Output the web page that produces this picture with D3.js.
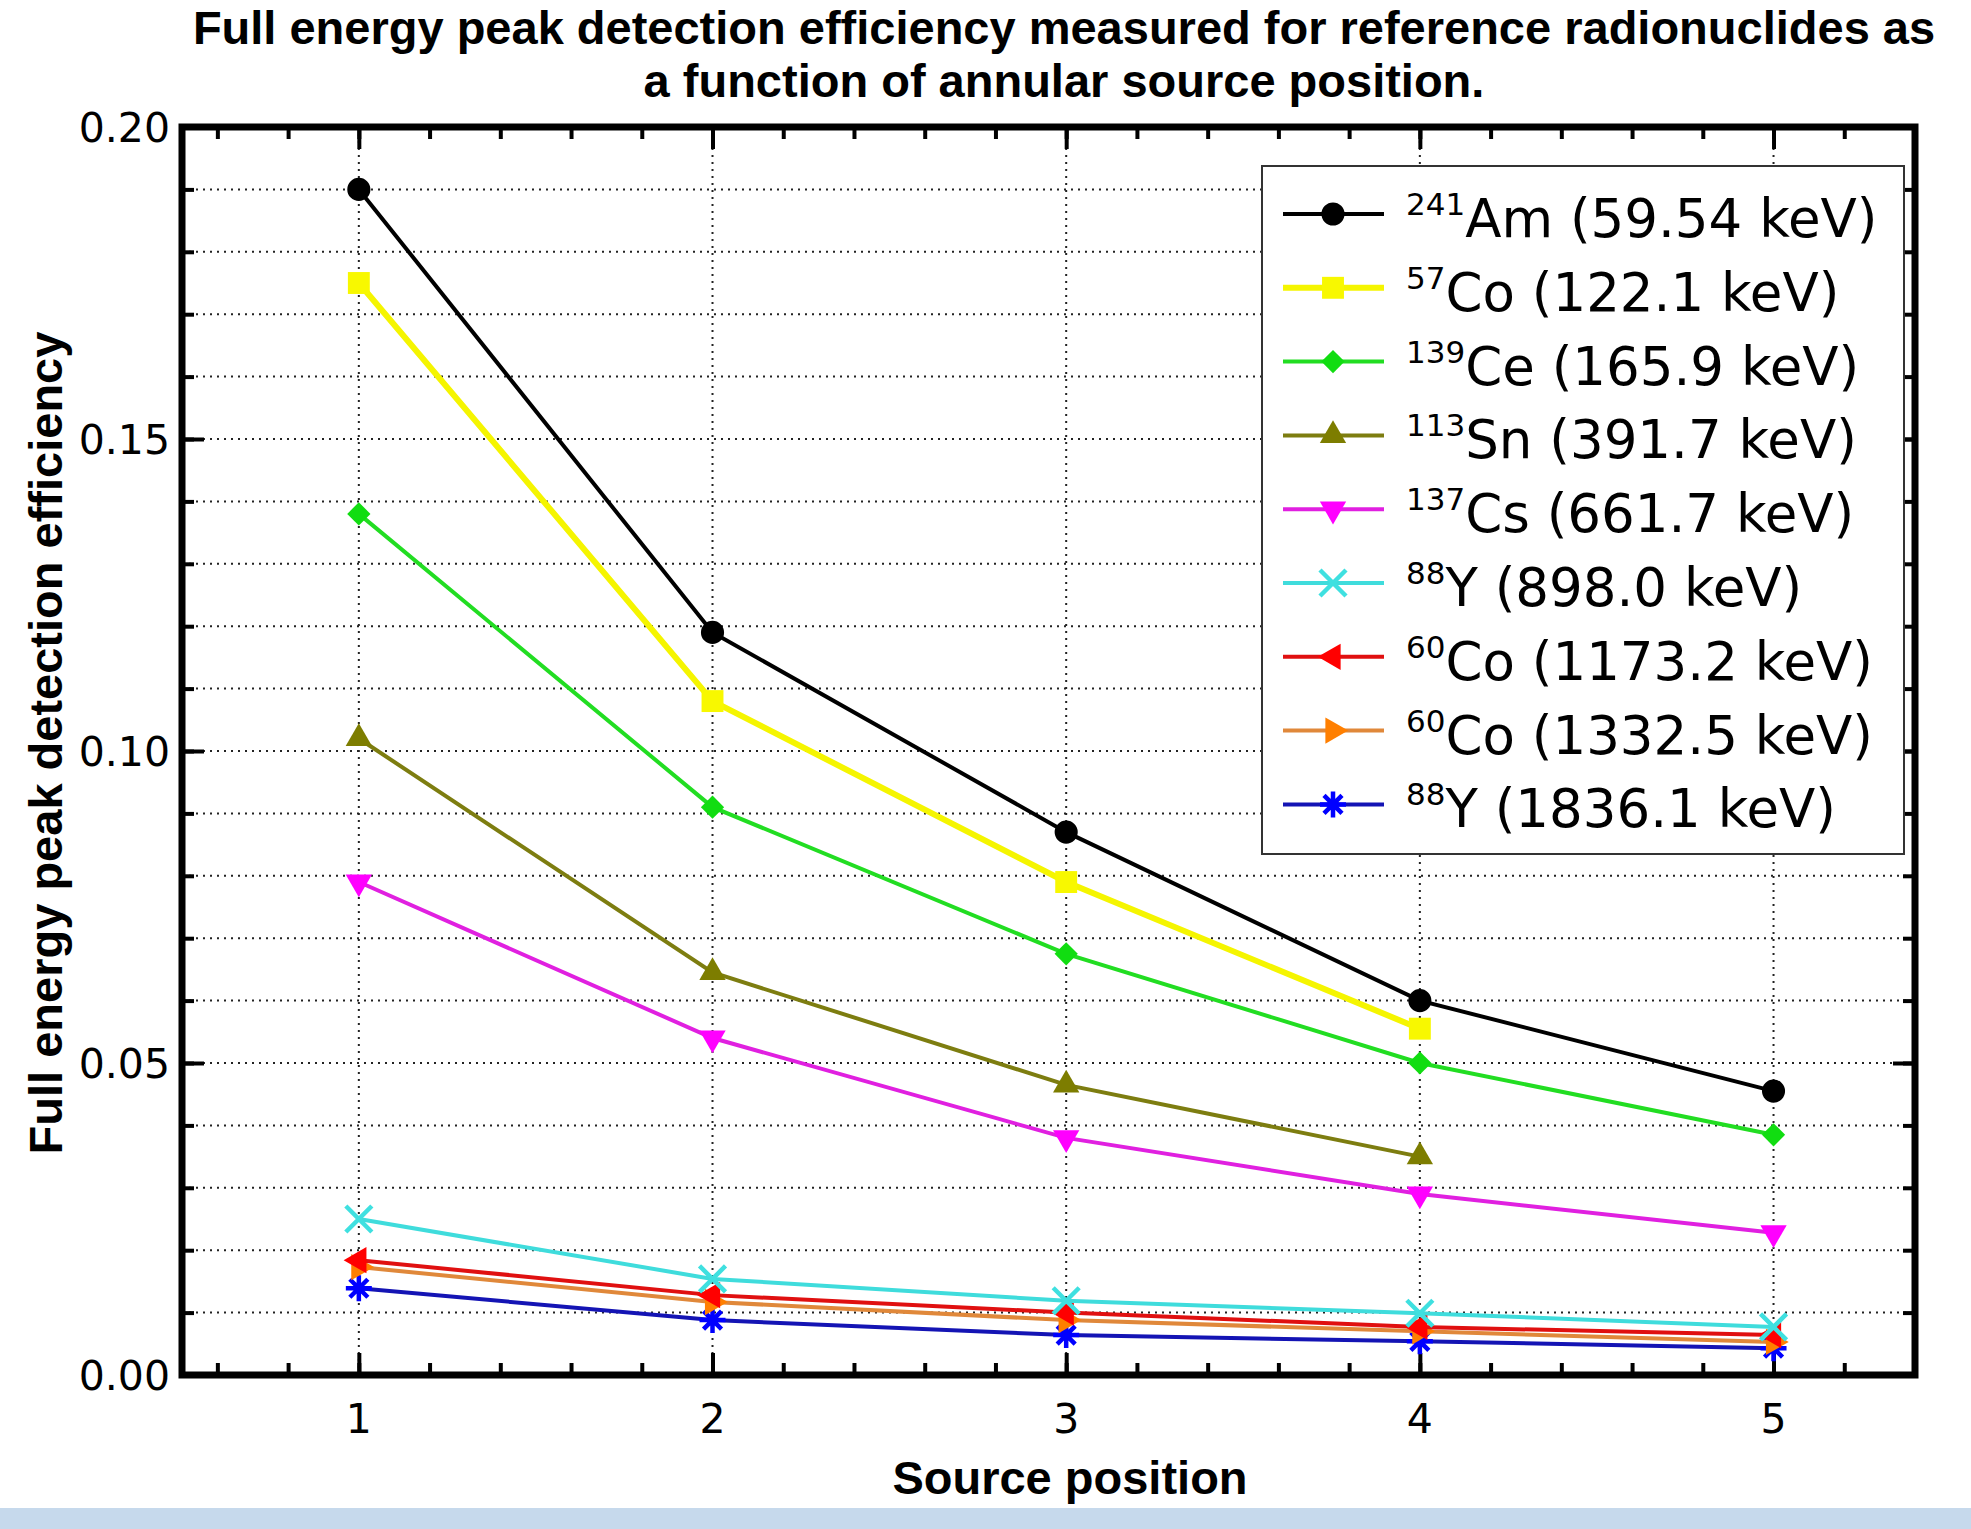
<!DOCTYPE html>
<html>
<head>
<meta charset="utf-8">
<script src="https://cdn.jsdelivr.net/npm/d3@7"></script>
<style>
  html, body { margin: 0; padding: 0; background: #fff; }
  svg { display: block; }
</style>
</head>
<body>
<div id="chart"></div>
<script>
// Source positions on the x axis
const positions = [1, 2, 3, 4, 5];

// Efficiency values, one array per gamma line
const am241_59 = [0.190, 0.119, 0.087, 0.060, 0.0455];
const co57_122 = [0.175, 0.108, 0.079, 0.0555];
const ce139_166 = [0.138, 0.091, 0.0675, 0.050, 0.0385];
const sn113_392 = [0.102, 0.0645, 0.0465, 0.035];
const cs137_662 = [0.079, 0.054, 0.038, 0.029, 0.0228];
const y88_898 = [0.025, 0.0154, 0.0119, 0.0099, 0.0077];
const co60_1173 = [0.0184, 0.0128, 0.0100, 0.0077, 0.0064];
const co60_1332 = [0.0173, 0.0117, 0.0088, 0.0070, 0.0053];
const y88_1836 = [0.0139, 0.0088, 0.0064, 0.0054, 0.0043];

// Legend text pieces
const massNumbers = ["241", "57", "139", "113", "137", "88", "60", "60", "88"];
const elements = ["Am", "Co", "Ce", "Sn", "Cs", "Y", "Co", "Co", "Y"];
const energies = ["59.54", "122.1", "165.9", "391.7", "661.7", "898.0", "1173.2", "1332.5", "1836.1"];

// Axis ticks
const yMajorTicks = [0, 0.05, 0.10, 0.15, 0.20];
const yMinorTicks = d3.range(0, 0.2001, 0.01);
const xMinorTicks = d3.range(0.6, 5.401, 0.2);

const W = 1971, H = 1529;
const margin = { left: 182, right: 1915, top: 127, bottom: 1375 };

const series = [
  { values: am241_59, line: "#000000", fill: "#000000", width: 4, shape: "circle" },
  { values: co57_122, line: "#f5f500", fill: "#f8f800", width: 6, shape: "square" },
  { values: ce139_166, line: "#22dd22", fill: "#11dd11", width: 4, shape: "diamond" },
  { values: sn113_392, line: "#7d7d10", fill: "#7d7d00", width: 4, shape: "up" },
  { values: cs137_662, line: "#e020e0", fill: "#ff00ff", width: 4, shape: "down" },
  { values: y88_898, line: "#3fdcdc", fill: "#3fe0e0", width: 4, shape: "cross" },
  { values: co60_1173, line: "#e01010", fill: "#ff0000", width: 4, shape: "left" },
  { values: co60_1332, line: "#e0883a", fill: "#ff7f00", width: 4, shape: "right" },
  { values: y88_1836, line: "#1414b4", fill: "#0000ff", width: 4, shape: "star" }
];

const svg = d3.select("#chart")
  .append("svg")
  .attr("width", W)
  .attr("height", H)
  .style("font-family", "'DejaVu Sans', Verdana, sans-serif");

svg.append("rect").attr("width", W).attr("height", H).attr("fill", "#fff");

const x = d3.scaleLinear().domain([0.5, 5.4]).range([margin.left, margin.right]);
const y = d3.scaleLinear().domain([0, 0.2]).range([margin.bottom, margin.top]);

// Dotted grid
const grid = svg.append("g");
grid.selectAll(".hg")
  .data(yMinorTicks.filter(d => d > 0.001 && d < 0.199))
  .enter().append("line")
  .attr("x1", margin.left).attr("x2", margin.right)
  .attr("y1", d => y(d)).attr("y2", d => y(d))
  .attr("stroke", "#222").attr("stroke-width", 2)
  .attr("stroke-dasharray", "2,5");
grid.selectAll(".vg")
  .data(positions)
  .enter().append("line")
  .attr("x1", d => x(d)).attr("x2", d => x(d))
  .attr("y1", margin.top).attr("y2", margin.bottom)
  .attr("stroke", "#222").attr("stroke-width", 2)
  .attr("stroke-dasharray", "2,5");

// Ticks on all four sides, pointing inwards
function tickAxis(axis, transform, values, size) {
  const g = svg.append("g")
    .attr("transform", transform)
    .call(axis.tickValues(values).tickSizeInner(size).tickSizeOuter(0).tickFormat(""));
  g.select(".domain").remove();
  g.selectAll(".tick line").attr("stroke", "#000").attr("stroke-width", 4);
}
const plotH = margin.bottom - margin.top;
const plotW = margin.right - margin.left;
tickAxis(d3.axisBottom(x), `translate(0,${margin.bottom})`, xMinorTicks, -12);
tickAxis(d3.axisBottom(x), `translate(0,${margin.bottom})`, positions, -22);
tickAxis(d3.axisTop(x), `translate(0,${margin.top})`, xMinorTicks, -12);
tickAxis(d3.axisTop(x), `translate(0,${margin.top})`, positions, -22);
tickAxis(d3.axisLeft(y), `translate(${margin.left},0)`, yMinorTicks, -12);
tickAxis(d3.axisLeft(y), `translate(${margin.left},0)`, yMajorTicks, -22);
tickAxis(d3.axisRight(y), `translate(${margin.right},0)`, yMinorTicks, -12);
tickAxis(d3.axisRight(y), `translate(${margin.right},0)`, yMajorTicks, -22);

// Tick labels
svg.append("g").selectAll("text")
  .data(positions)
  .enter().append("text")
  .attr("x", d => x(d)).attr("y", 1433)
  .attr("text-anchor", "middle")
  .attr("font-size", 41)
  .text(d => d);
svg.append("g").selectAll("text")
  .data(yMajorTicks)
  .enter().append("text")
  .attr("x", 170).attr("y", d => y(d) + 15)
  .attr("text-anchor", "end")
  .attr("font-size", 41)
  .text(d => d3.format(".2f")(d));

// Marker shapes
function markerPath(shape) {
  if (shape === "circle") return d3.symbol(d3.symbolCircle, 420)();
  if (shape === "square") return d3.symbol(d3.symbolSquare, 480)();
  if (shape === "diamond") return d3.symbol(d3.symbolSquare, 270)();
  if (shape === "cross") return "M-13,-13L13,13M-13,13L13,-13";
  if (shape === "star") return "M0,-13V13M-13,0H13M-9,-9L9,9M-9,9L9,-9";
  return d3.symbol(d3.symbolTriangle, 300)();
}
const shapeRotation = { diamond: 45, down: 180, left: -90, right: 90 };

function drawMarker(g, s, px, py) {
  const p = g.append("path")
    .attr("d", markerPath(s.shape))
    .attr("transform", `translate(${px},${py}) rotate(${shapeRotation[s.shape] || 0})`);
  if (s.shape === "cross" || s.shape === "star") {
    p.attr("fill", "none").attr("stroke", s.fill).attr("stroke-width", 4.5);
  } else {
    p.attr("fill", s.fill);
  }
}

// Lines and markers, drawn bottom series first so upper ones sit on top
const line = d3.line().x((d, i) => x(positions[i])).y(d => y(d));
const plot = svg.append("g");
series.slice().reverse().forEach(s => {
  plot.append("path")
    .attr("d", line(s.values))
    .attr("fill", "none")
    .attr("stroke", s.line)
    .attr("stroke-width", s.width);
  s.values.forEach((v, i) => drawMarker(plot, s, x(positions[i]), y(v)));
});

// Frame
svg.append("rect")
  .attr("x", margin.left).attr("y", margin.top)
  .attr("width", plotW).attr("height", plotH)
  .attr("fill", "none").attr("stroke", "#000").attr("stroke-width", 7);

// Legend
const legend = svg.append("g");
legend.append("rect")
  .attr("x", 1262).attr("y", 166).attr("width", 642).attr("height", 688)
  .attr("fill", "#fff").attr("stroke", "#333").attr("stroke-width", 2);
series.forEach((s, i) => {
  const cy = 214 + i * 73.8;
  legend.append("line")
    .attr("x1", 1283).attr("x2", 1384).attr("y1", cy).attr("y2", cy)
    .attr("stroke", s.line).attr("stroke-width", s.width);
  drawMarker(legend, s, 1333, cy);
  const t = legend.append("text").attr("x", 1406).attr("y", cy + 23).attr("font-size", 53);
  t.append("tspan").attr("font-size", 31).attr("dy", -22).text(massNumbers[i]);
  t.append("tspan").attr("dy", 22).text(`${elements[i]} (${energies[i]} keV)`);
});

// Titles
const title = svg.append("text")
  .attr("text-anchor", "middle")
  .attr("font-family", "'Liberation Sans', Arial, sans-serif")
  .attr("font-weight", "bold")
  .attr("font-size", 47);
title.append("tspan").attr("x", 1064).attr("y", 44)
  .text("Full energy peak detection efficiency measured for reference radionuclides as");
title.append("tspan").attr("x", 1064).attr("y", 97)
  .text("a function of annular source position.");

svg.append("text")
  .attr("x", 1070).attr("y", 1494)
  .attr("text-anchor", "middle")
  .attr("font-family", "'Liberation Sans', Arial, sans-serif")
  .attr("font-weight", "bold")
  .attr("font-size", 47)
  .text("Source position");

svg.append("text")
  .attr("transform", "translate(62,743) rotate(-90)")
  .attr("text-anchor", "middle")
  .attr("font-family", "'Liberation Sans', Arial, sans-serif")
  .attr("font-weight", "bold")
  .attr("font-size", 47)
  .text("Full energy peak detection efficiency");

// Light blue strip along the bottom edge
svg.append("rect")
  .attr("x", 0).attr("y", 1508).attr("width", W).attr("height", H - 1508)
  .attr("fill", "#c6d9ec");
</script>
</body>
</html>
